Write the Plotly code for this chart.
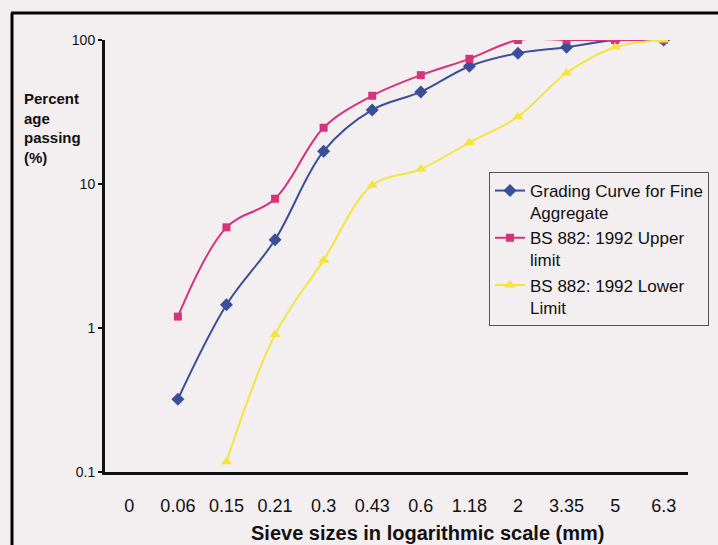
import plotly.graph_objects as go

sieve_sizes = ["0", "0.06", "0.15", "0.21", "0.3", "0.43", "0.6", "1.18", "2", "3.35", "5", "6.3"]
fine_aggregate = [None, 0.32, 1.45, 4.1, 16.9, 32.7, 43.6, 65.7, 81, 89, 100, 100]
upper_limit = [None, 1.2, 5.0, 7.9, 24.6, 41, 57, 74, 100, 100, 100, 100]
lower_limit = [None, None, 0.118, 0.9, 2.96, 9.8, 12.7, 19.4, 29.3, 59, 89, 100]

y_ticks = [0.1, 1, 10, 100]
y_tick_text = ["0.1", "1", "10", "100"]

series_names = ["Grading Curve for Fine<br>Aggregate", "BS 882: 1992 Upper<br>limit", "BS 882: 1992 Lower<br>Limit"]
x_title = "Sieve sizes in logarithmic scale (mm)"
y_title = "Percent<br>age<br>passing<br>(%)"

BG = "#f3eef0"
FONT = "Liberation Sans, Arial, sans-serif"

fig = go.Figure()
fig.add_trace(go.Scatter(x=sieve_sizes, y=fine_aggregate, name=series_names[0], mode="lines+markers",
                         line=dict(color="#3b4f98", width=2, shape="spline"),
                         marker=dict(symbol="diamond", size=10, color="#3b4f98")))
fig.add_trace(go.Scatter(x=sieve_sizes, y=upper_limit, name=series_names[1], mode="lines+markers",
                         line=dict(color="#d6347a", width=2, shape="spline"),
                         marker=dict(symbol="square", size=8, color="#d6347a")))
fig.add_trace(go.Scatter(x=sieve_sizes, y=lower_limit, name=series_names[2], mode="lines+markers",
                         line=dict(color="#f4e43e", width=2, shape="spline"),
                         marker=dict(symbol="triangle-up", size=10, color="#f4e43e")))

W, H = 718, 545
L, R, T, B = 105, 30, 40, 73
pw, ph = W - L - R, H - T - B

def px_x(x):
    return (x - L) / pw

def px_y(y):
    return (H - B - y) / ph

fig.update_layout(
    width=W, height=H,
    margin=dict(l=L, r=R, t=T, b=B, autoexpand=False),
    paper_bgcolor=BG, plot_bgcolor=BG,
    font=dict(family=FONT, color="#111111"),
    showlegend=True,
    legend=dict(x=px_x(489), y=px_y(172), xanchor="left", yanchor="top",
                bgcolor=BG, bordercolor="#555555", borderwidth=1,
                font=dict(size=17, family=FONT, color="#111111"),
                valign="top", tracegroupgap=0),
    xaxis=dict(type="category", categoryorder="array", categoryarray=sieve_sizes,
               range=[-0.5, len(sieve_sizes) - 0.5], automargin=False,
               showgrid=False, zeroline=False, showline=True, linecolor="#111111", linewidth=3,
               ticks="", ticklabelstandoff=15, tickfont=dict(size=18, family=FONT, color="#111111")),
    yaxis=dict(type="log", range=[-1, 2], tickvals=y_ticks, ticktext=y_tick_text, automargin=False,
               showgrid=False, zeroline=False, showline=True, linecolor="#111111", linewidth=3,
               ticks="outside", ticklen=4, tickwidth=2, tickcolor="#111111",
               tickfont=dict(size=14, family=FONT, color="#111111")),
    annotations=[
        dict(text="<b>" + y_title + "</b>", xref="paper", yref="paper",
             x=px_x(22), y=px_y(88), xanchor="left", yanchor="top", align="left",
             showarrow=False, font=dict(size=15, family=FONT, color="#111111")),
        dict(text="<b>" + x_title + "</b>", xref="paper", yref="paper",
             x=px_x(427), y=px_y(533), xanchor="center", yanchor="middle",
             showarrow=False, font=dict(size=20, family=FONT, color="#111111")),
    ],
    shapes=[
        dict(type="line", xref="paper", yref="paper", x0=px_x(12), x1=px_x(12), y0=px_y(13), y1=px_y(560),
             line=dict(color="#000000", width=3)),
        dict(type="line", xref="paper", yref="paper", x0=px_x(11), x1=px_x(730), y0=px_y(13), y1=px_y(13),
             line=dict(color="#000000", width=3)),
    ],
)

fig.write_html(
    "out.html",
    config={"displayModeBar": False},
    post_script="document.body.style.margin='0';document.body.style.overflow='hidden';"
                "document.body.style.background='" + BG + "';",
)
